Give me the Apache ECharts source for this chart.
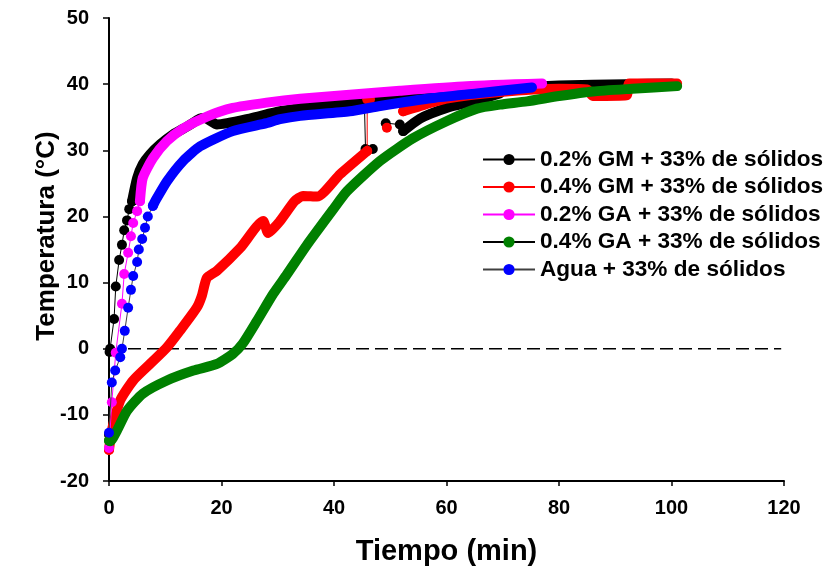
<!DOCTYPE html>
<html>
<head>
<meta charset="utf-8">
<script src="https://cdn.jsdelivr.net/npm/echarts@6/dist/echarts.min.js"></script>
<style>
  html, body { margin: 0; padding: 0; background: #fff; }
  #chart { width: 829px; height: 573px; }
</style>
</head>
<body>
<div id="chart"></div>
<script>
// names shown in the legend
var seriesNames = [
    '0.2% GM + 33% de sólidos',
    '0.4% GM + 33% de sólidos',
    '0.2% GA + 33% de sólidos',
    '0.4% GA + 33% de sólidos',
    'Agua + 33% de sólidos'
];

var xTicks = [0, 20, 40, 60, 80, 100, 120];
var yTicks = [-20, -10, 0, 10, 20, 30, 40, 50];

// [tiempo (min), temperatura (°C)]
// "Sparse" = separately visible markers, "Band" = dense markers that merge into a thick band
var gm02Sparse = [[0, -13], [0.1, -0.5], [0.2, 0], [0.9, 4.5], [1.2, 9.4], [1.8, 13.4], [2.3, 15.7], [2.7, 17.9], [3.2, 19.4], [3.6, 21.1], [4.1, 22.3],
    '-', [45.4, 37.2], [45.6, 30.2], [46.9, 30.2], '-', [49.2, 34.1], [51.7, 33.9], [52.3, 32.9]];
var gm02Band = [[4.1, 22.3], [5, 25.8], [6, 27.9], [7.3, 29.4], [9.1, 30.9], [11.4, 32.4], [13.9, 33.6], [16.2, 34.8], [17, 34.9],
    [19.2, 33.9], [25, 34.8], [30.4, 35.9], [37, 36.7], [45.2, 37.1], [50, 37.6], [55, 38.2], [60, 38.8], [70, 39.4], [80, 39.8], [92, 40.0], [100, 40.1],
    '-', [52.3, 32.9], [55.3, 34.8], [60, 36.4], [64.7, 37.4], [69.5, 38.6]];

var gm04Sparse = [[0, -15.3], '-', [45.9, 29.9], [45.9, 37.7], [46.4, 37.7], '-', [49.4, 33.4], '-', [52.3, 35.9]];
var gm04Band = [[0, -15.3], [0.5, -12.4], [2, -7.8], [4.3, -4.8], [7.3, -2.3], [10.3, 0.2], [12.6, 2.7], [15.6, 6.2], [16.5, 8],
    [17.4, 10.7], [19.2, 11.8], [23.3, 15.2], [27.4, 19.3], [28.3, 17.5], [30.4, 19.3], [33, 22.3], [34.5, 23.1], [37, 23.0],
    [41.1, 26.4], [45.9, 29.9],
    '-', [52.3, 35.9], [55, 36.6], [60, 37.8], [69.5, 38.8], [80, 39.3], [85, 39.2], [86, 38.2], [92, 38.3], [92.5, 40.1], [101, 40.1]];

var ga02Sparse = [[0, -15], [0.5, -8.1], [1.2, -0.6], [2.3, 6.8], [2.7, 11.3], [3.4, 14.5], [3.9, 17], [4.3, 19], [5, 20.8], [5.5, 22.3]];
var ga02Band = [[5.5, 22.3], [6, 25.8], [7.8, 28.8], [10.3, 31.4], [13.2, 33.3], [17.4, 35.1], [22, 36.4], [28, 37.2], [34, 37.8],
    [42.8, 38.4], [51.7, 39.0], [63.6, 39.7], [77, 40.1]];

var ga04Sparse = [[0, -13.9]];
var ga04Band = [[0, -13.9], [0.2, -14], [1.4, -12.4], [3.2, -9.4], [6, -6.8], [10.3, -4.8], [15, -3.3], [19.2, -2.3], [22, -0.8],
    [23.8, 0.8], [26.3, 4.2], [29.2, 8.3], [31.6, 11.2], [35.2, 15.7], [39.8, 21], [42.3, 23.8], [48.2, 28.4], [54, 31.8],
    [60, 34.4], [65.4, 36.3], [69.5, 36.9], [74.3, 37.4], [80, 38.2], [86, 38.9], [93, 39.3], [101, 39.7]];

var aguaSparse = [[0, -12.7], [0.5, -5.1], [1.1, -3.3], [2, -1.3], [2.3, 0], [2.8, 2.7], [3.4, 6.2], [3.9, 8.9], [4.3, 11], [5, 13.1],
    [5.3, 15], [5.9, 16.6], [6.4, 18.3], [6.9, 20], [7.8, 21.6]];
var aguaBand = [[7.8, 21.6], [8.2, 22.3], [10.3, 25.3], [13.2, 28.4], [16.2, 30.6], [22, 32.9], [28, 34.1], [30.4, 34.7], [34, 35.2],
    [42.8, 35.9], [48.2, 36.7], [57.6, 37.9], [65.4, 38.6], [75.2, 39.5]];

var zeroLine = [[0, 0], [119.5, 0]];

var colors = ['#000000', '#ff0000', '#ff00ff', '#008000', '#0000ff'];
var lineColors = ['#000000', '#ff0000', '#ff00ff', '#000000', '#404040'];
var sparseData = [gm02Sparse, gm04Sparse, ga02Sparse, ga04Sparse, aguaSparse];
var bandData = [gm02Band, gm04Band, ga02Band, ga04Band, aguaBand];

var font = 'Arial, "Liberation Sans", sans-serif';

var series = [{
    name: 'cero',
    type: 'line',
    data: zeroLine,
    showSymbol: false,
    silent: true,
    lineStyle: { color: '#000', width: 1.5, type: [13, 6] },
    z: 1
}];

for (var i = 0; i < seriesNames.length; i++) {
    series.push({
        name: seriesNames[i] + ' banda',
        type: 'line',
        data: bandData[i],
        showSymbol: false,
        silent: true,
        smooth: 0.2,
        connectNulls: false,
        lineStyle: { color: colors[i], width: 10, cap: 'round', join: 'round' },
        z: 2 + i * 2
    });
    series.push({
        name: seriesNames[i],
        type: 'line',
        data: sparseData[i],
        symbol: 'circle',
        symbolSize: 10,
        showAllSymbol: true,
        connectNulls: false,
        itemStyle: { color: colors[i] },
        lineStyle: { color: lineColors[i], width: 1 },
        z: 3 + i * 2
    });
}

var chart = echarts.init(document.getElementById('chart'));
chart.setOption({
    animation: false,
    backgroundColor: '#fff',
    grid: { left: 109, right: 45, top: 18, bottom: 92 },
    legend: {
        data: seriesNames,
        orient: 'vertical',
        left: 477,
        top: 143,
        itemWidth: 52,
        itemHeight: 14,
        itemGap: 4.5,
        textStyle: { fontFamily: font, fontWeight: 'bold', fontSize: 22.6, color: '#000' }
    },
    xAxis: {
        type: 'value',
        min: xTicks[0],
        max: xTicks[xTicks.length - 1],
        interval: 20,
        name: 'Tiempo (min)',
        nameLocation: 'middle',
        nameGap: 56,
        nameMoveOverlap: false,
        nameTextStyle: { fontFamily: font, fontWeight: 'bold', fontSize: 29, color: '#000' },
        axisLine: { onZero: false, lineStyle: { color: '#000', width: 2 } },
        axisTick: { length: 5, lineStyle: { color: '#000', width: 1.5 } },
        axisLabel: { fontFamily: font, fontWeight: 'bold', fontSize: 20, color: '#000', margin: 17 },
        splitLine: { show: false }
    },
    yAxis: {
        type: 'value',
        min: yTicks[0],
        max: yTicks[yTicks.length - 1],
        interval: 10,
        name: 'Temperatura (°C)',
        nameLocation: 'middle',
        nameGap: 49,
        nameMoveOverlap: false,
        nameTextStyle: { fontFamily: font, fontWeight: 'bold', fontSize: 26, color: '#000', padding: [0, 0, 0, 27] },
        axisLine: { show: true, onZero: false, lineStyle: { color: '#000', width: 2 } },
        axisTick: { show: true, length: 6, lineStyle: { color: '#000', width: 1.5 } },
        axisLabel: { fontFamily: font, fontWeight: 'bold', fontSize: 20, color: '#000', margin: 20 },
        splitLine: { show: false }
    },
    series: series
});
</script>
</body>
</html>
